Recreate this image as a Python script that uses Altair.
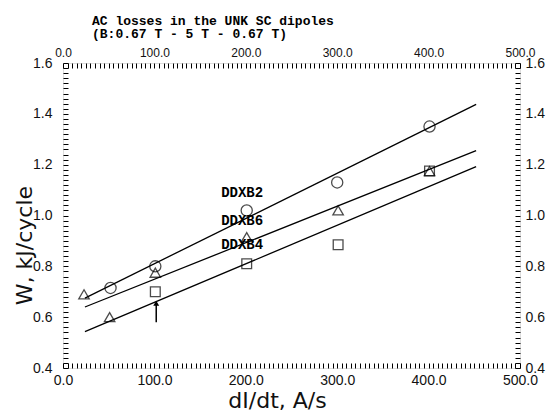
import altair as alt
import pandas as pd

# ---- data ----
circle_x = [52, 101, 201, 300, 401]
circle_y = [0.715, 0.80, 1.02, 1.13, 1.35]
tri_x = [23, 51, 101, 201, 301, 401]
tri_y = [0.69, 0.60, 0.775, 0.915, 1.02, 1.175]
sq_x = [101, 201, 301, 401]
sq_y = [0.70, 0.81, 0.885, 1.175]

line_x = [24, 452]
line_ddxb2 = [0.675, 1.437]
line_ddxb6 = [0.64, 1.255]
line_ddxb4 = [0.543, 1.192]

label_names = ["DDXB2", "DDXB6", "DDXB4"]
label_x = [196, 196, 196]
label_y = [1.089, 0.979, 0.884]

arrow_x = [102]
arrow_y0 = [0.58]
arrow_y1 = [0.655]

x_minor = list(range(0, 501, 5))
y_minor = [round(0.4 + 0.02 * i, 2) for i in range(61)]

# ---- tables ----
pts = pd.DataFrame(
    [{"x": a, "y": b, "s": "circle"} for a, b in zip(circle_x, circle_y)]
    + [{"x": a, "y": b, "s": "triangle"} for a, b in zip(tri_x, tri_y)]
    + [{"x": a, "y": b, "s": "square"} for a, b in zip(sq_x, sq_y)]
)
lines = pd.DataFrame(
    [{"x": a, "y": b, "g": "DDXB2"} for a, b in zip(line_x, line_ddxb2)]
    + [{"x": a, "y": b, "g": "DDXB6"} for a, b in zip(line_x, line_ddxb6)]
    + [{"x": a, "y": b, "g": "DDXB4"} for a, b in zip(line_x, line_ddxb4)]
)
labels = pd.DataFrame({"x": label_x, "y": label_y, "t": label_names})
arrow = pd.DataFrame({"x": arrow_x, "y0": arrow_y0, "y1": arrow_y1})

xs = alt.Scale(domain=[0, 500], nice=False, zero=False)
ys = alt.Scale(domain=[0.4, 1.6], nice=False, zero=False)

LF = "Liberation Sans"
TF = "DejaVu Sans"
MONO = "Liberation Mono"

X_LABEL = "round(datum.value) % 100 == 0 ? format(datum.value, '.1f') : ''"
Y_LABEL = "round(datum.value * 100) % 20 == 0 ? format(datum.value, '.1f') : ''"

TICK = 5  # inward tick length


def axis(orient, values, expr, gap, size, **kw):
    # negative tick size (via expression) -> ticks point into the plot;
    # labels are placed at tickSize + labelPadding, so compensate the padding
    return alt.Axis(orient=orient, values=values, labelExpr=expr,
                    tickSize={"expr": str(-TICK)}, tickColor="black", tickWidth=1,
                    domain=False, grid=False, labelPadding=gap + TICK,
                    labelOverlap=False, labelFlush=False,
                    labelFont=LF, labelFontSize=size, labelColor="#111",
                    **kw)


l1 = alt.Chart(lines).mark_line(color="black", strokeWidth=1.3).encode(
    x=alt.X("x:Q", scale=xs, axis=None),
    y=alt.Y("y:Q", scale=ys, axis=None),
    detail="g:N",
)

l2 = alt.Chart(pts).mark_point(filled=False, color="black", strokeWidth=1.3).encode(
    x=alt.X("x:Q", scale=xs, axis=None),
    y=alt.Y("y:Q", scale=ys, axis=None),
    shape=alt.Shape("s:N", scale=alt.Scale(domain=["circle", "triangle", "square"],
                                            range=["circle", "triangle-up", "square"]),
                    legend=None),
    size=alt.Size("s:N", scale=alt.Scale(domain=["circle", "triangle", "square"],
                                          range=[125, 95, 85]),
                  legend=None),
)

l3 = alt.Chart(labels).mark_text(font=MONO, fontWeight="bold", fontSize=14,
                                 color="black").encode(
    x=alt.X("x:Q", scale=xs,
            axis=axis("bottom", x_minor, X_LABEL, 5, 14,
                      title="dI/dt, A/s", titleFont=TF, titleFontSize=22,
                      titleFontWeight="normal", titleColor="#111",
                      titleX=214, titleY=39, titleAlign="center",
                      titleBaseline="alphabetic")),
    y=alt.Y("y:Q", scale=ys,
            axis=axis("left", y_minor, Y_LABEL, 11, 14,
                      title="W, kJ/cycle", titleFont=TF, titleFontSize=22,
                      titleFontWeight="normal", titleColor="#111",
                      titleX=-32, titleY=182, titleAlign="center",
                      titleAngle=270, titleBaseline="alphabetic")),
    text="t:N",
)

l4 = alt.Chart(arrow).mark_rule(color="black", strokeWidth=1.5).encode(
    x=alt.X("x:Q", scale=xs, axis=axis("top", x_minor, X_LABEL, 4, 12, title=None)),
    y=alt.Y("y0:Q", scale=ys, axis=axis("right", y_minor, Y_LABEL, 5, 14, title=None)),
    y2="y1:Q",
)

l5 = alt.Chart(arrow).mark_point(shape="triangle-up", filled=True, color="black",
                                 size=35, opacity=1).encode(
    x=alt.X("x:Q", scale=xs, axis=None),
    y=alt.Y("y1:Q", scale=ys, axis=None),
)

chart = alt.layer(l1, l2, l3, l4, l5).resolve_axis(
    x="independent", y="independent"
).properties(
    width=457, height=305,
    autosize=alt.AutoSizeParams(type="none"),
    padding={"left": 63, "top": 63, "right": 30, "bottom": 47},
    title=alt.Title(
        ["AC losses in the UNK SC dipoles", "(B:0.67 T - 5 T - 0.67 T)"],
        anchor="start", frame="group", dx=29, offset=5,
        font=MONO, fontSize=13, fontWeight="bold", lineHeight=13, color="black",
    ),
).configure_view(
    stroke="black", strokeWidth=1.5
).configure(background="white")

chart.save("out.html", embed_options={"renderer": "svg", "actions": False})
